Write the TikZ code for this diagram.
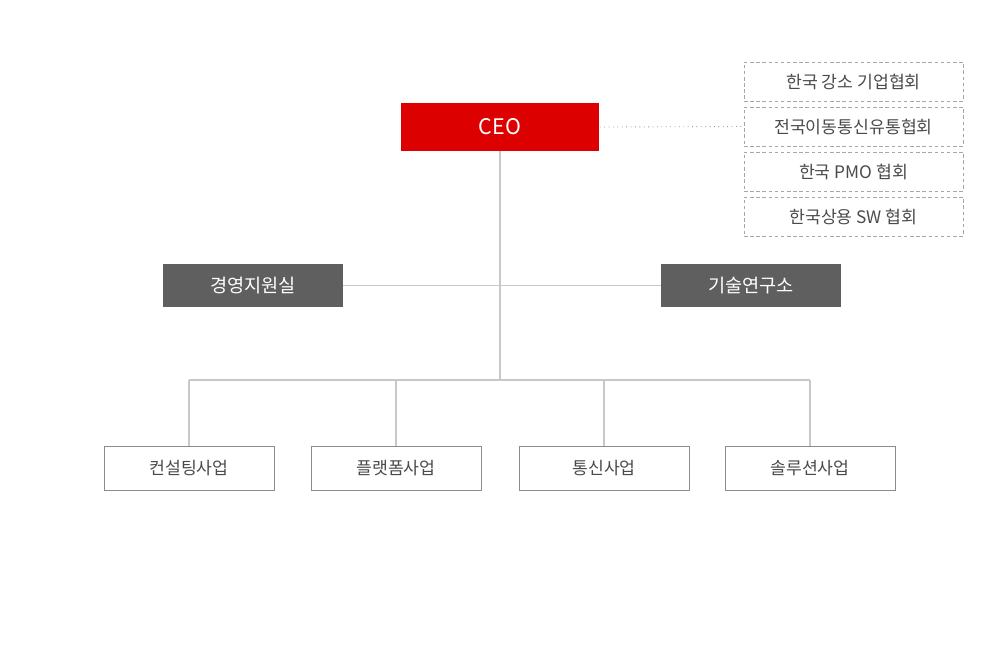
\documentclass[tikz,border=0pt]{standalone}
\usepackage{fontspec}
\setmainfont{Noto Sans CJK KR}
\definecolor{ceored}{HTML}{DD0000}
\definecolor{deptgray}{HTML}{5F5F5F}
\definecolor{linegray}{HTML}{C8C8C8}
\definecolor{textgray}{HTML}{4A4A4A}

\tikzset{
  ceobox/.style={fill=ceored,text=white,minimum width=3.98cm,minimum height=0.96cm,inner sep=0pt,font=\fontsize{12.2}{13}\selectfont},
  deptbox/.style={fill=deptgray,text=white,minimum width=3.6cm,minimum height=0.86cm,inner sep=0pt,font=\fontsize{10.6}{12}\selectfont},
  assocbox/.style={draw=gray!70,dashed,dash pattern=on 2pt off 1.5pt,line width=0.4pt,text=textgray,minimum width=4.38cm,minimum height=0.78cm,inner sep=0pt,font=\fontsize{9.8}{11}\selectfont},
  bizbox/.style={draw=gray!90,line width=0.5pt,text=textgray,minimum width=3.4cm,minimum height=0.88cm,inner sep=0pt,font=\fontsize{9.8}{11}\selectfont},
  conn/.style={draw=linegray,line width=0.6pt}
}

\begin{document}
\begin{tikzpicture}[x=0.02cm,y=-0.02cm]
  \useasboundingbox (0,0) rectangle (1000,650);
  \node[ceobox] (ceo) at (500,127) {CEO};
  % associations
  \foreach \y/\name/\txt in {81.5/a1/한국 강소 기업협회,126.5/a2/전국이동통신유통협회,171.5/a3/한국 PMO 협회,216.5/a4/한국상용 SW 협회}
    \node[assocbox] (\name) at (853.5,\y) {\txt};
  \draw[gray!80,dotted,line width=0.5pt] (ceo.east) -- (a2.west);
  % staff
  \node[deptbox] (mgmt) at (253,285.5) {경영지원실};
  \node[deptbox] (lab) at (751,285.5) {기술연구소};
  \coordinate (hub) at (500,380);
  \draw[conn] (ceo.south) -- (hub);
  \draw[conn] (mgmt.east) -- (lab.west);
  % business units
  \foreach \x/\name/\txt in {189/b1/컨설팅사업,396/b2/플랫폼사업,604/b3/통신사업,810/b4/솔루션사업}
    \node[bizbox] (\name) at (\x,468) {\txt};
  \draw[conn] (b1.north |- hub) -- (b4.north |- hub);
  \foreach \name in {b1,b2,b3,b4}
    \draw[conn] (\name.north |- hub) -- (\name.north);
\end{tikzpicture}
\end{document}
